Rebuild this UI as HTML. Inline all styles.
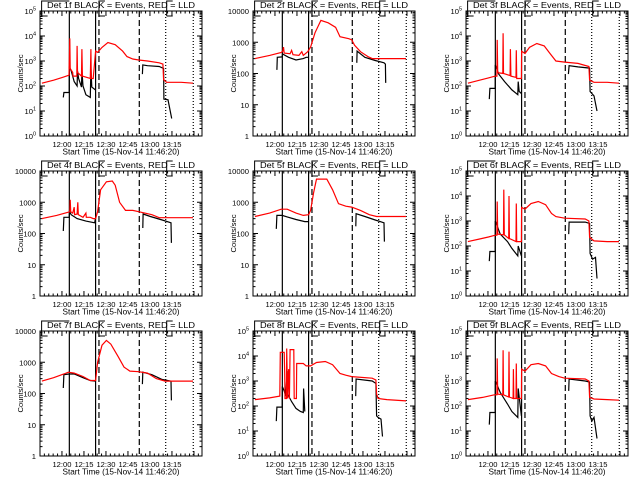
<!DOCTYPE html>
<html><head><meta charset="utf-8">
<style>
body{margin:0;background:#fff;}
svg{display:block;font-family:"Liberation Sans",sans-serif;}
</style></head>
<body>
<svg id="chart" width="640" height="480" viewBox="0 0 640 480"></svg>
<script>
// ---- data (t = minutes after 11:46:20, v = counts/sec) ----
const detNames = ["1f","2f","3f","4f","5f","6f","7f","8f","9f"];
const expStyle = [true,false,true,false,false,true,false,true,true];
const yDecades = [5,4,5,4,4,5,4,5,5];
const timeTickLabels = ["12:00","12:15","12:30","12:45","13:00","13:15"];
const timeTickMinutes = [13.67,28.67,43.67,58.67,73.67,88.67];
const solidMarks = [18.7,36.6];
const dashedMarks = [38.9,66.4];
const dottedMarks = [84.4,103.2];

const red1 = [[0,130],[8,170],[14,220],[18.5,270],[19,8000],[19.3,500],[21,350],[21.2,250],[23.8,250],[24,4000],[24.3,350],[27,250],[27.3,3000],[27.6,250],[33,200],[33.4,3000],[33.7,200],[35,200],[36.6,2500],[38,2200],[41,3500],[45,5500],[50,4500],[55,2500],[58,1500],[62,1200],[66,1100],[72,1000],[80,850],[82.5,750],[83,180],[85,140],[95,140],[103,130]];
const blk1 = [[14.6,35],[15,55],[18.6,55],[18.7,600],[20,400],[22,150],[24,100],[24.3,400],[25,200],[27,90],[27.3,400],[28,100],[30,45],[33,35],[33.4,500],[34,90],[36.5,70],null,[68.5,300],[68.8,700],[72,650],[80,600],[83,500],[83.2,30],[86,28],[88.5,5]];
const red2 = [[0,300],[10,380],[18,470],[19,520],[19.5,700],[20,450],[24,430],[25,550],[26,400],[30,380],[32,500],[33,380],[36,500],[38,700],[41,2000],[45,5000],[50,4200],[55,3000],[58,1500],[64,1300],[66,1200],[68,800],[72,500],[77,350],[80,300],[103,300]];
const blk2 = [[15,130],[15.3,330],[18.6,340],[18.8,420],[23,330],[28,270],[33,300],[35,330],[36.5,330],null,[69.5,220],[69.7,520],[75,330],[82,260],[88,220],[89,200],[89.2,50]];
const red3 = [[0,130],[8,170],[14,210],[18.6,250],[19.8,250],[20,7000],[20.3,340],[23.8,320],[24,13000],[24.3,320],[28.8,260],[29,3000],[29.3,250],[32.8,220],[33,2700],[33.3,200],[36.5,200],[36.6,2500],[38.9,2000],[42,3500],[47,5000],[52,4000],[56,2000],[60,1000],[66,900],[75,800],[82.5,600],[83,170],[86,140],[95,140],[103,130]];
const blk3 = [[14.6,30],[15,80],[18.6,80],[18.7,700],[21,300],[25,150],[30,70],[34,45],[34.3,150],[35,60],[36.5,50],null,[68.5,300],[69,650],[75,580],[83,520],[83.3,60],[86,40],[88,10]];
const red4 = [[0,300],[10,380],[18,480],[19,500],[19.3,1200],[19.6,500],[21,450],[22,700],[22.3,400],[24,420],[24.5,1000],[24.8,400],[28,330],[30,450],[30.3,330],[33,330],[35,300],[36.6,300],[38,500],[40,2500],[44,4500],[48,4800],[50,3500],[53,1000],[57,550],[62,550],[66,500],[75,400],[80,320],[103,320]];
const blk4 = [[14.6,120],[15,330],[18.6,330],[18.8,500],[20,400],[24,300],[30,250],[36,220],[36.5,300],null,[68.8,150],[69,420],[74,350],[82,270],[88,220],[88.3,50]];
const red5 = [[0,350],[10,450],[18,600],[22,600],[28,450],[33,380],[36.6,400],[38,550],[40,2000],[42,5500],[49,5500],[53,2500],[57,900],[62,750],[66,700],[72,550],[78,400],[83,350],[103,350]];
const blk5 = [[14.6,140],[15,380],[18.6,380],[22,340],[28,280],[34,240],[36.5,240],null,[68.8,170],[69,430],[75,350],[82,270],[88,220],[88.3,55]];
const red6 = [[0,150],[8,190],[14,230],[18.6,270],[19.8,270],[20,6000],[20.3,300],[24.3,280],[24.5,18000],[24.8,280],[27.8,200],[28,10000],[28.3,200],[32.8,150],[33,5000],[33.3,150],[36.5,150],[36.6,3500],[38.9,3000],[43,5000],[48,6000],[53,4500],[57,2000],[60,1500],[66,1300],[80,1200],[82.5,1000],[83,220],[86,160],[95,150],[103,150]];
const blk6 = [[14.6,25],[15,60],[18.6,60],[18.7,1000],[22,300],[27,150],[30,80],[34,40],[34.3,100],[36.5,40],null,[68.7,300],[69,900],[80,900],[83,800],[83.3,50],[85,30],[87,35],[88,5]];
const red7 = [[0,250],[8,320],[15,420],[18,480],[22,450],[28,350],[33,260],[36.6,260],[38,1000],[41,3500],[44,5000],[47,3800],[52,1500],[56,700],[60,520],[66,500],[72,450],[78,300],[84,250],[103,250]];
const blk7 = [[14.6,150],[15,400],[18.6,420],[22,420],[28,320],[33,260],[36.5,250],null,[68.5,200],[68.8,480],[75,400],[82,280],[88,250],[88.3,60]];
const red8 = [[0,180],[10,210],[17,250],[17.3,14000],[20,14000],[20.3,2000],[20.5,200],[21.5,200],[21.7,20000],[22.3,200],[23,3000],[23.5,200],[24,18000],[26.5,18000],[26.8,200],[28.3,200],[28.5,5000],[33,5000],[35,4000],[38,4000],[42,5500],[48,6000],[53,4500],[58,2000],[62,1700],[66,1500],[80,1300],[82.5,1100],[83,300],[84,200],[90,180],[103,160]];
const blk8 = [[14.6,25],[15,90],[18.6,90],[18.7,600],[20,400],[21,250],[22,2500],[22.3,300],[25,150],[28,80],[31,60],[33,55],[33.2,500],[34,60],null,[68.7,250],[69,1200],[80,1000],[82.5,800],[83,40],[84,35],[86,30],[87,6]];
const red9 = [[0,180],[10,220],[18,280],[19.8,280],[20,8000],[20.3,300],[23.8,280],[24,17000],[24.3,280],[27.8,230],[28,15000],[28.3,230],[30.8,200],[31,3000],[31.3,200],[32.8,200],[33,5000],[33.3,200],[36.5,200],[36.6,3000],[38.9,2500],[43,4500],[48,5000],[53,4000],[57,2000],[62,1500],[66,1300],[80,1200],[82.5,1000],[83,220],[86,190],[95,180],[103,170]];
const blk9 = [[14.6,18],[15,55],[18.6,55],[18.7,1000],[22,350],[27,120],[30,60],[34,35],[34.3,500],[36.5,40],null,[68.7,400],[69,1200],[80,1000],[83,900],[83.3,40],[84.5,25],[86,35],[88,5]];
const redSeries = [red1,red2,red3,red4,red5,red6,red7,red8,red9];
const blackSeries = [blk1,blk2,blk3,blk4,blk5,blk6,blk7,blk8,blk9];

const NS = "http://www.w3.org/2000/svg";
const svg = document.getElementById("chart");
function mk(tag, attrs, parent, txt){
  const e = document.createElementNS(NS, tag);
  for (const k in attrs) e.setAttribute(k, attrs[k]);
  if (txt !== undefined) e.textContent = txt;
  (parent || svg).appendChild(e);
  return e;
}
const T0 = -1.3, PXPM = 22/15;

for (let p = 0; p < 9; p++) {
  const c = p % 3, r = Math.floor(p / 3);
  const L = 40 + 213*c, R = 202 + 213*c, Tp = 11 + 160*r, B = 136 + 160*r;
  const dec = yDecades[p];
  const xs = t => L + (t - T0) * PXPM;
  const ys = v => B - Math.log10(v) / dec * (B - Tp);
  const g = mk("g", {});
  
  

  const title = mk("text", {x:L+81, y:Tp-3, "font-size":"8.6", "text-anchor":"middle", textLength:"148", lengthAdjust:"spacingAndGlyphs"}, g, "Det " + detNames[p] + " BLACK = Events, RED = LLD");
  
  

  [[xs(-0.2), xs(solidMarks[0])], [xs(dashedMarks[0]), xs(dashedMarks[0])+6], [xs(dottedMarks[0])+1, xs(dottedMarks[0])+7]].forEach(([a,b]) => {
    const br = mk("path", {d:`M${a} ${Tp+5}V${Tp-10}H${b}M${a} ${Tp+5}H${a+6}`, stroke:"#000", fill:"none", "stroke-width":"1"}, g);
    
    
  });

  const box = mk("rect", {x:L, y:Tp, width:R-L, height:B-Tp, fill:"none", stroke:"#000", "stroke-width":"1"}, g);
  
  

  for (let k = -4; k < 33; k++) {
    const t = 13.67 + k*3;
    const x = xs(t);
    if (x < L || x > R) continue;
    const major = (k % 5 === 0);
    const len = major ? 5 : 2.5;
    const tk = mk("path", {d:`M${x} ${B}V${B-len}M${x} ${Tp}V${Tp+len}`, stroke:"#000", "stroke-width":"1"}, g);
    
    
  }
  timeTickLabels.forEach((lab, i) => {
    const tl = mk("text", {x:xs(timeTickMinutes[i]), y:B+11, "font-size":"7.6", "text-anchor":"middle"}, g, lab);
    
    
  });
  const xt = mk("text", {x:(L+R)/2, y:B+18.5, "font-size":"8.3", "text-anchor":"middle", textLength:"117", lengthAdjust:"spacingAndGlyphs"}, g, "Start Time (15-Nov-14 11:46:20)");
  
  

  for (let d = 0; d <= dec; d++) {
    const y = ys(Math.pow(10, d));
    const tk = mk("path", {d:`M${L} ${y}H${L+5}M${R} ${y}H${R-5}`, stroke:"#000", "stroke-width":"1"}, g);
    
    
    if (d < dec) for (let m = 2; m < 10; m++) {
      const ym = ys(m * Math.pow(10, d));
      const mt = mk("path", {d:`M${L} ${ym}H${L+2.5}M${R} ${ym}H${R-2.5}`, stroke:"#000", "stroke-width":"1"}, g);
      
      
    }
    let lab;
    if (expStyle[p]) {
      lab = mk("text", {x:L-4, y:y+3, "font-size":"7.6", "text-anchor":"end"}, g);
      mk("tspan", {}, lab, "10");
      mk("tspan", {dy:"-3.5", "font-size":"5.5"}, lab, String(d));
    } else {
      lab = mk("text", {x:L-4, y:y+3, "font-size":"7.6", "text-anchor":"end"}, g, String(Math.pow(10, d)));
    }
    
    
  }
  const yt = mk("text", {x:0, y:0, "font-size":"7.6", "text-anchor":"middle", transform:`translate(${L-17},${(Tp+B)/2}) rotate(-90)`}, g, "Counts/sec");
  
  

  const vl = (t, dash, name) => {
    const l = mk("line", {x1:xs(t), x2:xs(t), y1:Tp, y2:B, stroke:"#000", "stroke-width":"1.2"}, g);
    if (dash) l.setAttribute("stroke-dasharray", dash);
    
    
  };
  solidMarks.forEach(t => vl(t, null, 'interval-line-solid'));
  dashedMarks.forEach(t => vl(t, "6,3", 'interval-line-dashed'));
  dottedMarks.forEach(t => vl(t, "1,2", 'interval-line-dotted'));

  const drawSeries = (arr, color, name) => {
    let d = "", pen = false;
    arr.forEach(pt => {
      if (!pt) { pen = false; return; }
      d += (pen ? "L" : "M") + xs(pt[0]).toFixed(1) + " " + ys(pt[1]).toFixed(1);
      pen = true;
    });
    const path = mk("path", {d:d, stroke:color, fill:"none", "stroke-width":"1.2"}, g);
    
    
  };
  drawSeries(blackSeries[p], "#000", 'events-series');
  drawSeries(redSeries[p], "#ff0000", 'lld-series');
}
</script>
</body></html>
